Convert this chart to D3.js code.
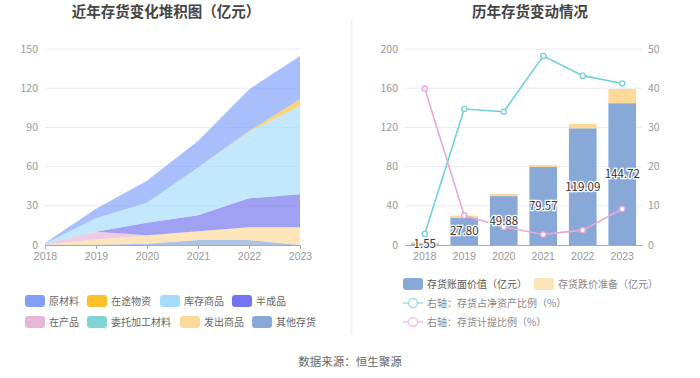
<!DOCTYPE html>
<html><head><meta charset="utf-8">
<script src="https://cdn.jsdelivr.net/npm/d3@7/dist/d3.min.js"></script>
<style>body{margin:0;background:#fff}svg{display:block;font-family:"Noto Sans CJK SC","Noto Sans",sans-serif}</style>
</head><body><svg id="c" width="700" height="378"></svg>
<script>
const years = ["2018","2019","2020","2021","2022","2023"];
// stacked area series (亿元), legend order
const seriesNames = ["原材料","在途物资","库存商品","半成品","在产品","委托加工材料","发出商品","其他存货"];
const seriesColors = ["#80a0fa","#fbbf2c","#a6dcfa","#7474ee","#e8b4d8","#80d4d4","#fdd898","#88a8d8"];
const rawMaterial = [0.45, 7.4, 16.8, 20.2, 31.9, 33.2];
const inTransit = [0, 0, 0, 0, 0.5, 4.9];
const finishedGoods = [0.4, 10.2, 15.3, 36.7, 51.0, 67.8];
const semiFinished = [0.1, 0, 9.7, 12.2, 22.2, 25.3];
const wip = [0.2, 5.9, 0.3, 0, 0, 0];
const consigned = [0, 0, 0, 0, 0, 0];
const goodsShipped = [0.3, 4.1, 6.1, 6.7, 9.7, 13.5];
const otherInv = [0.1, 0.2, 1.0, 3.8, 3.8, 0];
const leftTicks = [0, 30, 60, 90, 120, 150];

// right chart
const bookValue = [1.55, 27.80, 49.88, 79.57, 119.09, 144.72];
const impairment = [1.0, 2.1, 2.1, 2.0, 4.4, 14.5];
const invToNetAssets = [2.8, 34.7, 34.0, 48.2, 43.2, 41.2];
const provisionRatio = [39.9, 7.5, 4.6, 2.7, 3.8, 9.2];
const rightTicksL = [0, 40, 80, 120, 160, 200];
const rightTicksR = [0, 10, 20, 30, 40, 50];

const svg = d3.select("#c");
const txt = "#999", grid = "#e6eaf5", axisC = "#aaa";

// titles
svg.append("text").attr("x",166).attr("y",17).attr("text-anchor","middle").attr("font-size",14.5).attr("font-weight","bold").attr("fill","#444").text("近年存货变化堆积图（亿元）");
svg.append("text").attr("x",530).attr("y",17).attr("text-anchor","middle").attr("font-size",14.5).attr("font-weight","bold").attr("fill","#444").text("历年存货变动情况");
svg.append("line").attr("x1",351.5).attr("x2",351.5).attr("y1",20).attr("y2",335).attr("stroke","#f2f2f2").attr("stroke-width",2);
svg.append("text").attr("x",350).attr("y",366).attr("text-anchor","middle").attr("font-size",11.5).attr("fill","#666").text("数据来源：恒生聚源");

// ---------- left stacked area ----------
const xL = d3.scalePoint().domain(years).range([45,300]);
const yL = d3.scaleLinear().domain([0,150]).range([245,49]);
const gL = svg.append("g");
leftTicks.forEach(t=>{
  if(t>0) gL.append("line").attr("x1",45).attr("x2",300).attr("y1",yL(t)).attr("y2",yL(t)).attr("stroke",grid);
  gL.append("text").attr("x",38).attr("y",yL(t)+3.5).attr("text-anchor","end").attr("font-size",10.5).attr("fill",txt).text(t);
});
const arrs = [rawMaterial,inTransit,finishedGoods,semiFinished,wip,consigned,goodsShipped,otherInv];
const rows = years.map((y,i)=>{const o={year:y};seriesNames.forEach((n,k)=>o[n]=arrs[k][i]);return o;});
const stackOrder = seriesNames.slice().reverse();
const stack = d3.stack().keys(stackOrder)(rows);
const area = d3.area().x(d=>xL(d.data.year)).y0(d=>yL(d[0])).y1(d=>yL(d[1]));
stack.forEach(s=>{
  const k = seriesNames.indexOf(s.key);
  gL.append("path").attr("d",area(s)).attr("fill",seriesColors[k]).attr("fill-opacity",0.68);
});
const axL = gL.append("g").attr("transform","translate(0,245)").call(d3.axisBottom(xL).tickSize(4).tickPadding(4));
axL.select(".domain").attr("stroke",axisC);
axL.selectAll("line").attr("stroke",axisC);
axL.selectAll("text").attr("fill",txt).attr("font-size",10.5).attr("font-family","inherit");

// left legend
const legPos = [[25,301],[87,301],[160,301],[232,301],[25,322],[87,322],[180,322],[252,322]];
seriesNames.forEach((n,k)=>{
  const [x,y]=legPos[k];
  gL.append("rect").attr("x",x).attr("y",y-6).attr("width",20).attr("height",12).attr("rx",3).attr("fill",seriesColors[k]);
  gL.append("text").attr("x",x+24).attr("y",y+3.5).attr("font-size",10).attr("fill","#666").text(n);
});

// ---------- right bar + line ----------
const xR = d3.scaleBand().domain(years).range([405,642]).paddingInner(0.3).paddingOuter(0.15);
const yR = d3.scaleLinear().domain([0,200]).range([245,49]);
const yR2 = d3.scaleLinear().domain([0,50]).range([245,49]);
const gR = svg.append("g");
rightTicksL.forEach((t,i)=>{
  if(t>0) gR.append("line").attr("x1",405).attr("x2",642).attr("y1",yR(t)).attr("y2",yR(t)).attr("stroke",grid);
  gR.append("text").attr("x",398).attr("y",yR(t)+3.5).attr("text-anchor","end").attr("font-size",10.5).attr("fill",txt).text(t);
  gR.append("text").attr("x",648).attr("y",yR2(rightTicksR[i])+3.5).attr("text-anchor","start").attr("font-size",10.5).attr("fill",txt).text(rightTicksR[i]);
});
years.forEach((y,i)=>{
  gR.append("rect").attr("x",xR(y)).attr("width",xR.bandwidth()).attr("y",yR(bookValue[i])).attr("height",yR(0)-yR(bookValue[i])).attr("fill","#88a8d8");
  gR.append("rect").attr("x",xR(y)).attr("width",xR.bandwidth()).attr("y",yR(bookValue[i]+impairment[i])).attr("height",yR(bookValue[i])-yR(bookValue[i]+impairment[i])).attr("fill","#fdd898");
});
const axR = gR.append("g").attr("transform","translate(0,245)").call(d3.axisBottom(xR).tickSize(0).tickPadding(8));
axR.select(".domain").attr("stroke",axisC);
axR.selectAll("text").attr("fill",txt).attr("font-size",10.5).attr("font-family","inherit");
const cx = y=>xR(y)+xR.bandwidth()/2;
const lineGen = (arr)=>d3.line().x((d,i)=>cx(years[i])).y(d=>yR2(d))(arr);
[[invToNetAssets,"#6fd2d8"],[provisionRatio,"#e9a8d6"]].forEach(([arr,c])=>{
  gR.append("path").attr("d",lineGen(arr)).attr("fill","none").attr("stroke",c).attr("stroke-width",1.6);
  arr.forEach((v,i)=>gR.append("circle").attr("cx",cx(years[i])).attr("cy",yR2(v)).attr("r",2.6).attr("fill","#fff").attr("stroke",c).attr("stroke-width",1.3));
});
years.forEach((y,i)=>{
  gR.append("text").attr("x",cx(y)).attr("y",yR(bookValue[i]/2)+4).attr("text-anchor","middle").attr("font-size",11.5)
    .attr("fill","#333").attr("stroke","#fff").attr("stroke-width",2.5).attr("paint-order","stroke").text(bookValue[i].toFixed(2));
});

// right legend
const rl = [["存货账面价值（亿元）","#88a8d8","rect",403,284,"#555"],["存货跌价准备（亿元）","#fde3b8","rect",534,284,"#888"],
            ["右轴：存货占净资产比例（%）","#9fe0e4","line",403,303,"#888"],["右轴：存货计提比例（%）","#f2c4e5","line",403,322,"#888"]];
rl.forEach(([n,c,t,x,y,tc])=>{
  if(t==="rect") gR.append("rect").attr("x",x).attr("y",y-6).attr("width",20).attr("height",12).attr("rx",3).attr("fill",c);
  else {
    gR.append("line").attr("x1",x).attr("x2",x+20).attr("y1",y).attr("y2",y).attr("stroke",c).attr("stroke-width",1.6);
    gR.append("circle").attr("cx",x+10).attr("cy",y).attr("r",4.5).attr("fill","#fff").attr("stroke",c).attr("stroke-width",1.5);
  }
  gR.append("text").attr("x",x+24).attr("y",y+3.5).attr("font-size",10).attr("fill",tc).text(n);
});
</script></body></html>
